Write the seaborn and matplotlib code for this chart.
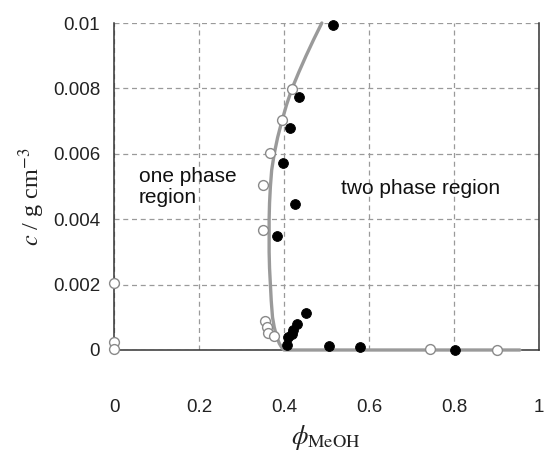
import matplotlib
matplotlib.use("Agg")
import matplotlib.pyplot as plt
import seaborn as sns
import pandas as pd

# Binodal curve
curve_phi = [0.489, 0.470, 0.452, 0.435, 0.419, 0.406, 0.395, 0.385, 0.377, 0.371,
             0.368, 0.366, 0.365, 0.365, 0.365, 0.366, 0.368, 0.370, 0.373, 0.377,
             0.383, 0.389, 0.396, 0.400, 0.955]
curve_c = [0.0100, 0.0095, 0.0090, 0.0085, 0.0080, 0.0075, 0.0070, 0.0065, 0.0060, 0.0055,
           0.0050, 0.0045, 0.0040, 0.0035, 0.0030, 0.0025, 0.0020, 0.0015, 0.0010, 0.0007,
           0.0004, 0.0002, 0.00005, 0.0, 0.0]

# One-phase (open) points
open_phi = [0.0, 0.0, 0.0, 0.418, 0.395, 0.367, 0.350, 0.351, 0.355, 0.361, 0.363, 0.377, 0.744, 0.900]
open_c = [0.00204, 0.00025, 0.00002, 0.00798, 0.00703, 0.00603, 0.00505, 0.00367,
          0.00090, 0.00071, 0.00051, 0.00044, 0.00003, 0.0]

# Two-phase (filled) points
fill_phi = [0.515, 0.436, 0.414, 0.397, 0.427, 0.384, 0.452, 0.431, 0.422, 0.418,
            0.409, 0.408, 0.507, 0.579, 0.802]
fill_c = [0.00993, 0.00774, 0.00680, 0.00571, 0.00445, 0.00349, 0.00112, 0.00080,
          0.00061, 0.00049, 0.00041, 0.00015, 0.00012, 0.00010, 0.0]

x_ticks = [0, 0.2, 0.4, 0.6, 0.8, 1.0]
x_tick_labels = ["0", "0.2", "0.4", "0.6", "0.8", "1"]
y_ticks = [0, 0.002, 0.004, 0.006, 0.008, 0.01]
y_tick_labels = ["0", "0.002", "0.004", "0.006", "0.008", "0.01"]

sns.set_theme(style="white")
plt.rcParams["font.family"] = ["Liberation Sans", "DejaVu Sans"]
plt.rcParams["mathtext.fontset"] = "stix"

fig = plt.figure(figsize=(5.44, 4.51), dpi=100)
ax = fig.add_axes([114 / 544, 1 - 350 / 451, 425 / 544, 327 / 451])

curve_df = pd.DataFrame({"phi": curve_phi, "c": curve_c})
open_df = pd.DataFrame({"phi": open_phi, "c": open_c})
fill_df = pd.DataFrame({"phi": fill_phi, "c": fill_c})

sns.lineplot(data=curve_df, x="phi", y="c", sort=False, estimator=None,
             color="#9a9a9a", lw=2.4, ax=ax, zorder=3, clip_on=False)
sns.scatterplot(data=open_df, x="phi", y="c", s=50, color="white",
                edgecolor="#8a8a8a", linewidth=1.0, ax=ax, zorder=5, clip_on=False)
sns.scatterplot(data=fill_df, x="phi", y="c", s=50, color="black",
                edgecolor="black", linewidth=0.6, ax=ax, zorder=5, clip_on=False)

ax.set_xlim(0, 1)
ax.set_ylim(0, 0.01)
ax.set_xticks(x_ticks)
ax.set_xticklabels(x_tick_labels)
ax.set_yticks(y_ticks)
ax.set_yticklabels(y_tick_labels)
ax.tick_params(axis="x", length=0, pad=35, labelsize=13.5, labelcolor="#222222")
ax.tick_params(axis="y", length=0, pad=10, labelsize=13.5, labelcolor="#222222")
ax.set_xlabel("")
ax.set_ylabel("")

ax.grid(True, linestyle=(0, (4, 3)), color="#9a9a9a", linewidth=0.9)
ax.set_axisbelow(True)

for side in ["left", "right", "bottom"]:
    ax.spines[side].set_visible(True)
    ax.spines[side].set_color("#333333")
    ax.spines[side].set_linewidth(1.1)
ax.spines["top"].set_visible(False)

ax.text(0.058, 0.00498, "one phase\nregion", fontsize=15, color="#111111",
        ha="left", va="center", linespacing=1.1)
ax.text(0.535, 0.00495, "two phase region", fontsize=15, color="#111111",
        ha="left", va="center")

fig.text(326 / 544, 1 - 437 / 451, r"$\phi_{\mathrm{MeOH}}$", fontsize=19,
         ha="center", va="center", color="#222222")
fig.text(32 / 544, 1 - 197 / 451, r"$c$ / g cm$^{-3}$", fontsize=17.5,
         family="Liberation Serif", rotation=90, ha="center", va="center", color="#222222")

fig.savefig("out.png", dpi=100)
